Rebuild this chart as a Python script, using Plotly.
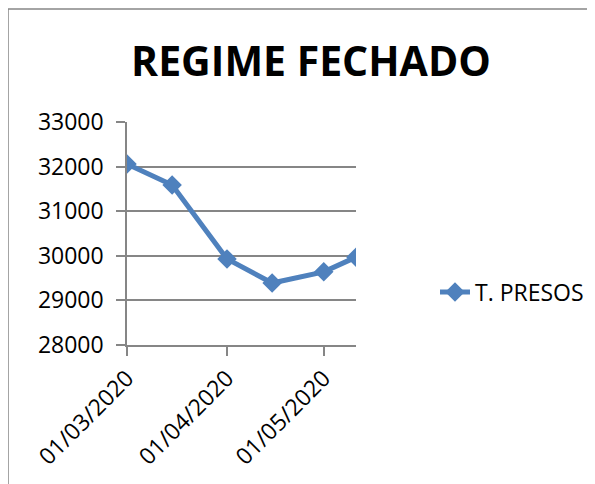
import plotly.graph_objects as go


# ==========================================================
# Data
# ==========================================================

dates = [
    "2020-03-01",
    "2020-03-15",
    "2020-04-01",
    "2020-04-15",
    "2020-05-01",
    "2020-05-11",
]

presos = [32060, 31590, 29930, 29390, 29640, 29970]

tick_dates = ["2020-03-01", "2020-04-01", "2020-05-01"]
tick_labels = ["01/03/2020", "01/04/2020", "01/05/2020"]

series_name = "T. PRESOS"
title_text = "REGIME FECHADO"


# ==========================================================
# Layout helpers (page pixel -> paper)
# the page puts the figure 8px in from the top-left corner
# ==========================================================

OFF = 8
W, H = 595 - OFF, 484 - OFF
L, R, T, B = 127 - OFF, 356 - OFF, 122 - OFF, 345 - OFF


def px(x):
    return (x - OFF - L) / (R - L)


def py(y):
    return (B - (y - OFF)) / (B - T)


grey = "#868686"
blue = "#4F81BD"
font = "Open Sans"

fig = go.Figure(
    go.Scatter(
        x=dates,
        y=presos,
        name=series_name,
        mode="lines+markers",
        line=dict(color=blue, width=5),
        marker=dict(symbol="diamond", size=15, color=blue),
    )
)

fig.update_layout(
    width=W,
    height=H,
    margin=dict(l=L, r=W - R, t=T, b=H - B, pad=0, autoexpand=False),
    paper_bgcolor="white",
    plot_bgcolor="white",
    font=dict(family=font, size=23, color="black"),
    title=dict(
        text="<b>" + title_text + "</b>",
        font=dict(family=font, size=41, color="black"),
        x=(311 - OFF) / W,
        xanchor="center",
        y=1 - (62 - OFF) / H,
        yanchor="middle",
    ),
    showlegend=True,
    legend=dict(
        x=px(435),
        xanchor="left",
        y=py(292),
        yanchor="middle",
        font=dict(family=font, size=23, color="black"),
        bgcolor="rgba(0,0,0,0)",
    ),
    shapes=[
        dict(
            type="line", xref="paper", yref="paper",
            x0=px(8), x1=px(600), y0=py(9), y1=py(9),
            line=dict(color=grey, width=1.5),
        ),
        dict(
            type="line", xref="paper", yref="paper",
            x0=px(8), x1=px(8), y0=py(9), y1=py(490),
            line=dict(color=grey, width=1.5),
        ),
    ],
)

fig.update_xaxes(
    type="date",
    range=["2020-03-01", "2020-05-11"],
    tickvals=tick_dates,
    ticktext=tick_labels,
    tickangle=-45,
    showgrid=False,
    showline=True,
    linecolor=grey,
    linewidth=1.5,
    ticks="outside",
    ticklen=9,
    tickwidth=1.5,
    tickcolor=grey,
    zeroline=False,
)

fig.update_yaxes(
    range=[28000, 33000],
    dtick=1000,
    tickformat="d",
    ticklabelstandoff=8,
    showgrid=True,
    gridcolor=grey,
    gridwidth=1.5,
    showline=True,
    linecolor=grey,
    linewidth=1.5,
    ticks="outside",
    ticklen=9,
    tickwidth=1.5,
    tickcolor=grey,
    zeroline=False,
)

fig.write_html("out.html")
